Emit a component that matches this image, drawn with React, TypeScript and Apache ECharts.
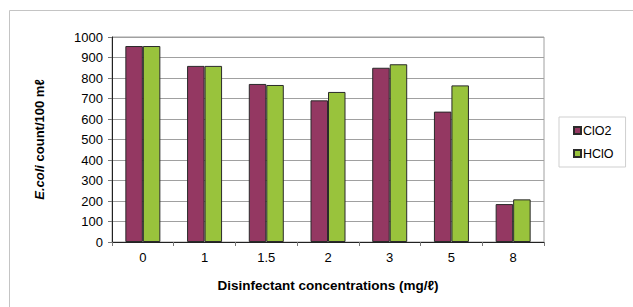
import React, { useEffect, useRef } from "react";
import * as echarts from "echarts";

const categories = ["0", "1", "1.5", "2", "3", "5", "8"];
const clo2 = [956, 859, 771, 691, 850, 636, 185];
const hclo = [956, 859, 766, 732, 867, 764, 208];
const seriesNames = ["ClO2", "HClO"];
const yTicks = { min: 0, max: 1000, interval: 100 };

export default function App() {
  const ref = useRef<HTMLDivElement>(null);
  useEffect(() => {
    const chart = echarts.init(ref.current!, undefined, { renderer: "svg" });
    const font = "'Liberation Sans', Arial, sans-serif";
    chart.setOption({
      animation: false,
      textStyle: { fontFamily: font },
      graphic: [
        {
          type: "rect",
          shape: { x: 9.5, y: 10.5, width: 640, height: 320 },
          style: { fill: "none", stroke: "#c4c4c4", lineWidth: 1 },
          silent: true,
        },
      ],
      grid: {
        left: 112,
        right: 89,
        top: 37,
        bottom: 65,
        show: true,
        borderColor: "#a0a0a0",
        borderWidth: 1,
      },
      legend: {
        orient: "vertical",
        left: 559,
        top: 117,
        padding: [7, 12, 7, 14],
        itemGap: 10,
        itemWidth: 7,
        itemHeight: 7,
        borderColor: "#cfcfcf",
        borderWidth: 1,
        backgroundColor: "#fff",
        textStyle: { fontFamily: font, fontSize: 12.5, color: "#000", padding: [0, 0, 0, -3] },
        data: seriesNames.map((n) => ({ name: n, icon: "rect" })),
      },
      xAxis: {
        type: "category",
        data: categories,
        axisLine: { lineStyle: { color: "#222", width: 1 } },
        axisTick: { show: true, length: 4, alignWithLabel: false, lineStyle: { color: "#777" } },
        axisLabel: { fontFamily: font, fontSize: 13, color: "#000", margin: 9 },
        name: "Disinfectant concentrations (mg/ℓ)",
        nameLocation: "middle",
        nameGap: 36,
        nameTextStyle: { fontFamily: font, fontSize: 13.5, fontWeight: "bold", color: "#000" },
      },
      yAxis: {
        type: "value",
        min: yTicks.min,
        max: yTicks.max,
        interval: yTicks.interval,
        axisLine: { show: true, lineStyle: { color: "#222", width: 1 } },
        axisTick: { show: true, length: 4, lineStyle: { color: "#777" } },
        splitLine: { lineStyle: { color: "#a0a0a0", width: 1 } },
        axisLabel: {
          fontFamily: font,
          fontSize: 13,
          color: "#000",
          margin: 9,
          formatter: (v: number) => String(v),
        },
        name: "{i|E.coli} count/100 mℓ",
        nameLocation: "middle",
        nameGap: 66,
        nameRotate: 90,
        nameTextStyle: {
          fontFamily: font,
          fontSize: 13,
          fontWeight: "bold",
          color: "#000",
          rich: {
            i: { fontFamily: font, fontSize: 13, fontWeight: "bold", fontStyle: "italic", color: "#000" },
          },
        },
      },
      series: [
        {
          name: seriesNames[0],
          type: "bar",
          data: clo2,
          barWidth: 17.5,
          barGap: "0%",
          itemStyle: { color: "#943862", borderColor: "#2a2a2a", borderWidth: 1 },
        },
        {
          name: seriesNames[1],
          type: "bar",
          data: hclo,
          barWidth: 17.5,
          barGap: "0%",
          itemStyle: { color: "#99c33c", borderColor: "#2a2a2a", borderWidth: 1 },
        },
      ],
    });
    return () => chart.dispose();
  }, []);
  return <div ref={ref} style={{ width: 633, height: 307, position: "absolute", left: 0, top: 0 }} />;
}
